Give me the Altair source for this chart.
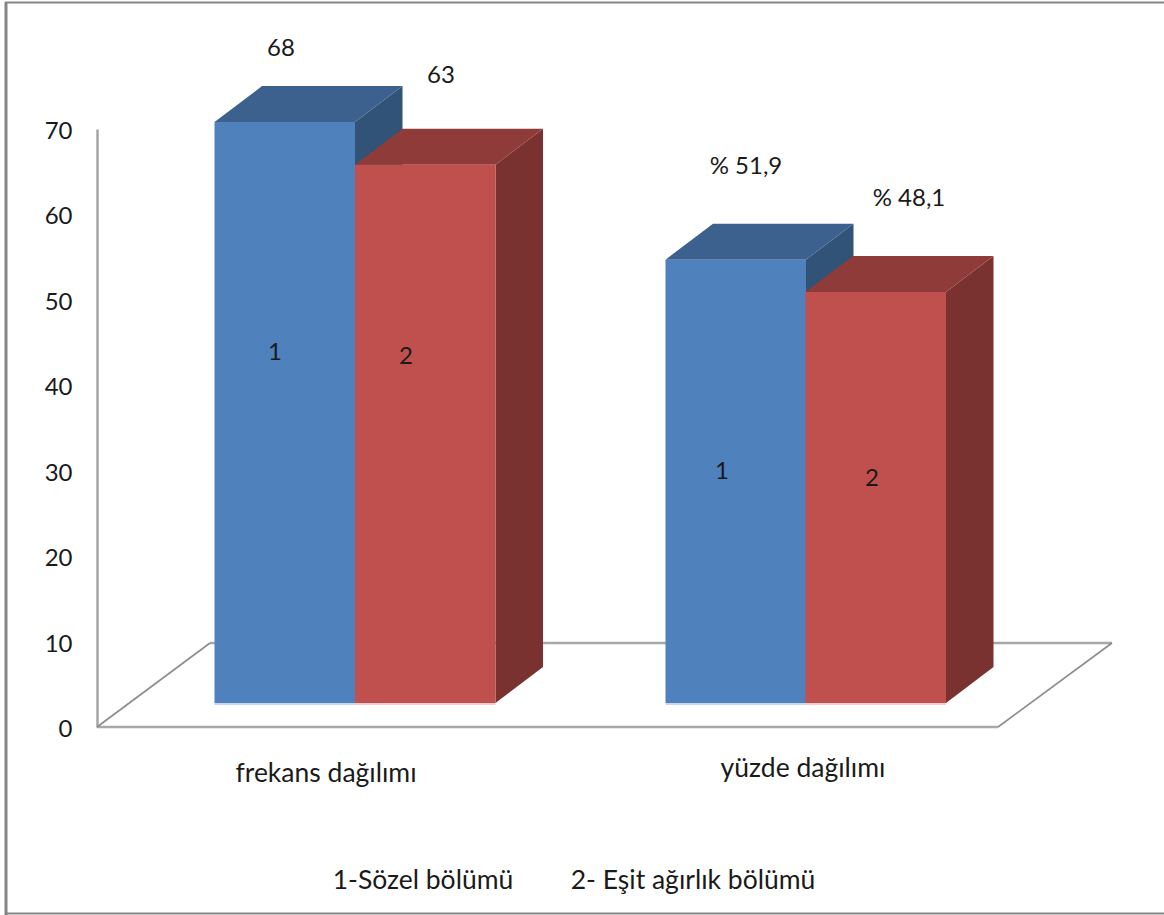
import altair as alt
import pandas as pd

# Survey results: two groups, two departments
groups = ["frekans dağılımı", "yüzde dağılımı"]
series_names = ["1-Sözel bölümü", "2- Eşit ağırlık bölümü"]
sozel_values = [68, 51.9]
esit_values = [63, 48.1]
value_labels = [["68", "% 51,9"], ["63", "% 48,1"]]
y_ticks = [0, 10, 20, 30, 40, 50, 60, 70]

# Bar geometry, in x-scale units and y-axis units
LEFT, RIGHT = 97, 1164
PLOT_H = 598
UNIT = PLOT_H / 70
bar_left = [[214.5, 665.5], [355, 805.5]]
BAR_W = 140.5
DEPTH_X = 47.5
DEPTH_Y = 36 / UNIT
LIFT = 24 / UNIT
FLOOR_BACK = 84 / UNIT
FONT = "Lato"
NUM_SIZE = 24
TEXT_SIZE = 26.5
INK = "#1a1a1a"

palette = [
    {"front": "#4f81bd", "top": "#3d618f", "side": "#325378", "base": "#c8d8ec"},
    {"front": "#c0504d", "top": "#8f3b39", "side": "#7a3230", "base": "#f2cdcc"},
]

x_scale = alt.Scale(domain=[LEFT, RIGHT], nice=False, zero=False)
y_scale = alt.Scale(domain=[0, 70], nice=False, zero=False)

# Value axis carries the wall line and the tick labels; every layer shares it
y_axis = alt.Axis(
    values=y_ticks, title=None, grid=False, ticks=False, labelPadding=25, labelOffset=2.5,
    labelFont=FONT, labelFontSize=NUM_SIZE, labelColor=INK,
    domainColor="#a6a6a6", domainWidth=2.5,
)


def X(field="x"):
    return alt.X(f"{field}:Q", scale=x_scale, axis=None)


def Y(field="y"):
    return alt.Y(f"{field}:Q", scale=y_scale, axis=y_axis)


def bar_layers(lefts, values, colors):
    layers = []
    for left, value in zip(lefts, values):
        right = left + BAR_W
        top = value + LIFT
        side = pd.DataFrame({
            "x": [right, right + DEPTH_X],
            "y": [LIFT, LIFT + DEPTH_Y],
            "y2": [top, top + DEPTH_Y],
        })
        lid = pd.DataFrame({
            "y": [top, top + DEPTH_Y],
            "x": [left, left + DEPTH_X],
            "x2": [right, right + DEPTH_X],
        })
        front = pd.DataFrame({"x": [left], "x2": [right], "y": [LIFT], "y2": [top],
                              "yb": [LIFT - 2 / UNIT]})
        layers += [
            alt.Chart(side).mark_area(orient="vertical", color=colors["side"]).encode(
                x=X(), y=Y(), y2="y2:Q"),
            alt.Chart(lid).mark_area(orient="horizontal", color=colors["top"]).encode(
                y=Y(), x=X(), x2="x2:Q"),
            alt.Chart(front).mark_rect(color=colors["base"]).encode(
                x=X(), x2="x2:Q", y=Y("yb"), y2="y:Q"),
            alt.Chart(front).mark_rect(color=colors["front"]).encode(
                x=X(), x2="x2:Q", y=Y(), y2="y2:Q"),
        ]
    return layers


def text_layer(xs, ys, labels, size):
    df = pd.DataFrame({"x": xs, "y": ys, "label": labels})
    return alt.Chart(df).mark_text(
        font=FONT, fontSize=size, color=INK, align="center", baseline="middle", dy=1.5
    ).encode(x=X(), y=Y(), text="label:N")


def edge_layer(xs, ys, color, width):
    df = pd.DataFrame({"x": xs, "y": ys, "i": range(len(xs))})
    return alt.Chart(df).mark_line(color=color, strokeWidth=width).encode(
        x=X(), y=Y(), order="i:Q")


# Floor of the 3D scene
floor = [
    edge_layer([LEFT, 998], [0, 0], "#a8a8a8", 2.5),
    edge_layer([210, 1112], [FLOOR_BACK, FLOOR_BACK], "#a8a8a8", 2.5),
    edge_layer([LEFT, 210], [0, FLOOR_BACK], "#8c8c8c", 1.6),
    edge_layer([998, 1112], [0, FLOOR_BACK], "#8c8c8c", 1.6),
]

bars = bar_layers(bar_left[0], sozel_values, palette[0]) + \
    bar_layers(bar_left[1], esit_values, palette[1])

# Annotations placed around the bars
labels = [
    text_layer([281, 746], [sozel_values[0] + 11.5, sozel_values[1] + 13.8], value_labels[0], NUM_SIZE),
    text_layer([441, 909], [esit_values[0] + 13.4, esit_values[1] + 13.9], value_labels[1], NUM_SIZE),
    text_layer([275, 722, 406, 872], [43.9, 30, 43.5, 29.2], ["1", "1", "2", "2"], NUM_SIZE),
    text_layer([326, 803], [-5.3, -4.7], groups, TEXT_SIZE),
    text_layer([423, 693], [-17.9, -17.9], series_names, TEXT_SIZE),
]

# Outer frame around the whole figure
frame = [
    alt.Chart(pd.DataFrame({"a": [0]})).mark_rule(color="#858585", strokeWidth=3).encode(
        x=alt.value(6 - LEFT), y=alt.value(2 - 129), y2=alt.value(915 - 129)),
    alt.Chart(pd.DataFrame({"a": [0]})).mark_rule(color="#858585", strokeWidth=2).encode(
        x=alt.value(5 - LEFT), x2=alt.value(RIGHT - LEFT), y=alt.value(2.5 - 129)),
    alt.Chart(pd.DataFrame({"a": [0]})).mark_rule(color="#858585", strokeWidth=2).encode(
        x=alt.value(5 - LEFT), x2=alt.value(RIGHT - LEFT), y=alt.value(913.5 - 129)),
]

chart = alt.layer(*floor, *bars, *labels, *frame).properties(
    width=RIGHT - LEFT,
    height=PLOT_H,
    padding={"left": LEFT, "top": 129, "right": 0, "bottom": 188},
    autosize="none",
    background="white",
).configure_view(stroke=None)

chart.save("out.html", embed_options={"renderer": "svg", "actions": False})
